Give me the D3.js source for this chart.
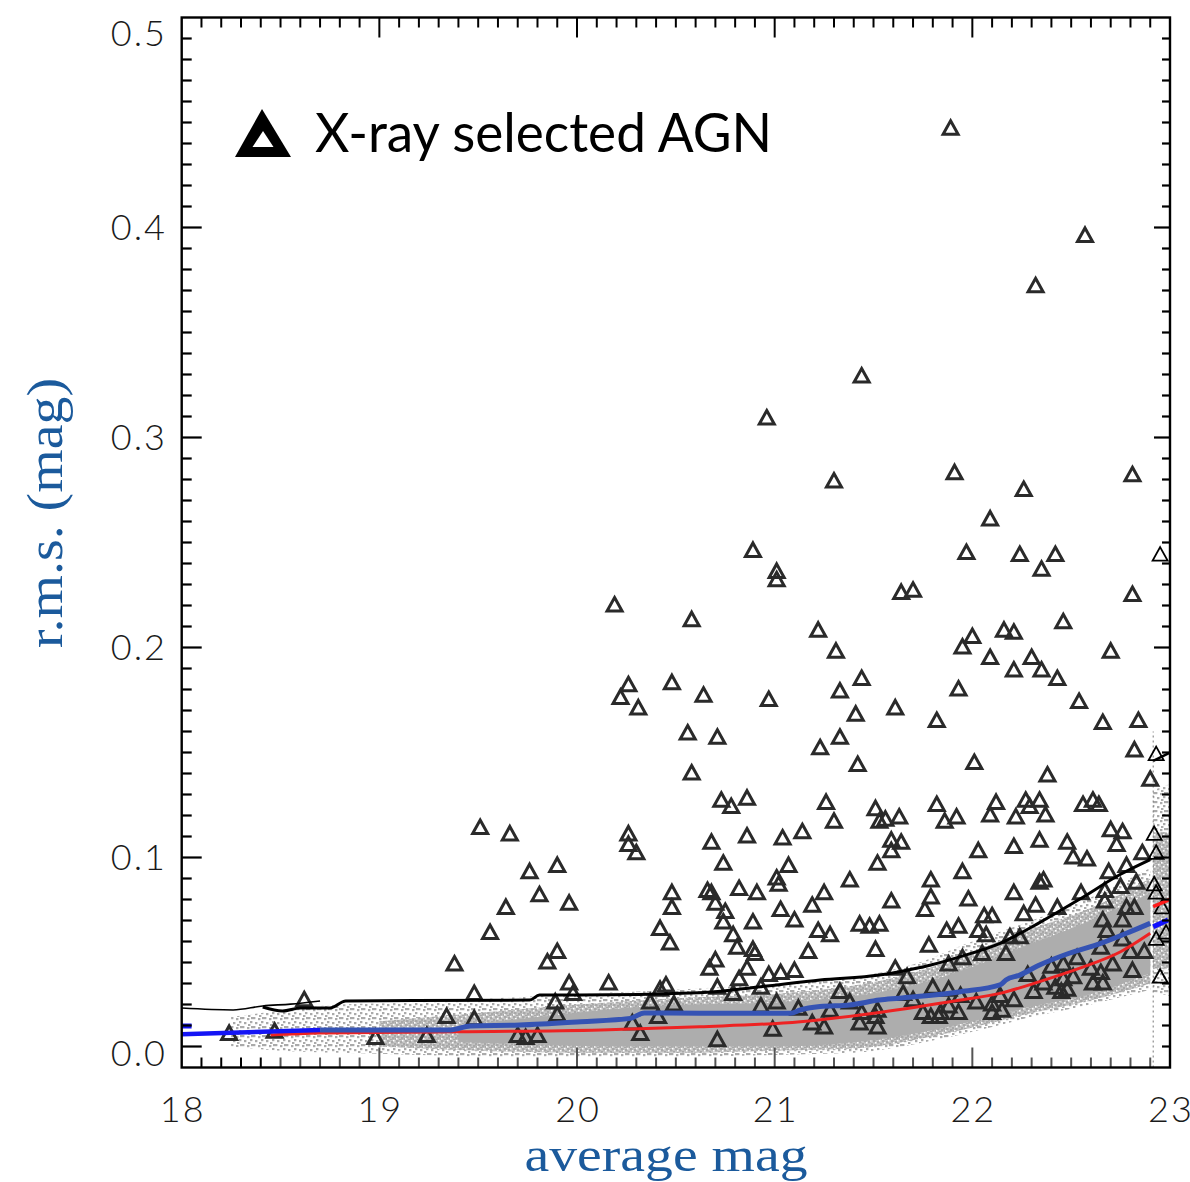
<!DOCTYPE html>
<html><head><meta charset="utf-8">
<script src="https://cdn.jsdelivr.net/npm/d3@7"></script>
<style>body{margin:0;background:#fff}svg{display:block}</style>
</head><body>
<svg id="c" width="1190" height="1182"></svg>
<script>
// ---------- data ----------
const xTickValues = [18,19,20,21,22,23];
const xTickLabels = ["18","19","20","21","22","23"];
const yTickValues = [0.0,0.1,0.2,0.3,0.4,0.5];
const yTickLabels = ["0.0","0.1","0.2","0.3","0.4","0.5"];
const yLongTicks  = [0.01,0.1,0.2,0.3,0.4];

// X-ray selected AGN (average mag, r.m.s.)
const agnMag = [21.89,22.57,22.32,21.44,20.96,21.91,21.30,22.81,22.26,22.09,20.89,21.97,22.24,22.42,21.01,21.01,22.35,20.19,21.64,21.70,
22.81,20.58,22.46,21.22,22.16,22.21,22.00,21.95,21.31,22.70,22.09,22.30,22.21,22.35,21.44,22.43,20.48,20.26,20.22,20.31,
20.64,21.33,21.93,20.97,22.54,21.61,21.41,21.82,22.84,22.66,20.56,20.71,21.33,21.23,22.82,22.01,21.42,20.58,22.38,20.73,
20.78,20.86,21.26,21.30,21.51,21.53,21.56,21.63,21.82,21.86,21.92,22.12,22.09,22.27,22.34,22.29,22.22,22.37,22.56,22.61,
22.64,22.70,22.76,20.68,20.86,21.04,21.14,21.59,21.64,21.59,22.03,20.74,21.07,21.52,21.95,21.79,21.38,21.01,19.51,19.66,
20.26,20.26,20.30,19.76,19.90,19.81,19.96,19.64,19.56,19.38,19.90,19.85,19.96,19.98,19.48,19.89,18.62,19.34,19.48,19.90,
18.24,18.47,18.98,19.24,19.70,19.74,19.80,20.48,20.48,20.66,20.68,20.70,20.82,20.91,21.02,21.25,21.19,21.03,20.75,20.74,
20.89,21.10,21.43,21.48,21.53,20.42,20.47,20.79,20.81,20.89,20.90,21.22,21.28,21.17,21.51,20.70,20.67,20.86,20.82,20.97,
21.03,21.10,20.16,20.45,20.42,20.71,20.79,20.93,20.37,20.49,20.41,20.28,20.32,20.93,21.01,21.12,21.28,21.33,21.38,20.99,
20.71,21.19,21.25,21.43,21.51,21.52,22.21,22.34,22.48,22.73,22.86,22.51,22.58,22.78,22.69,22.34,22.36,22.21,21.59,21.79,
21.76,21.98,22.55,22.67,22.75,22.83,22.32,22.43,22.26,22.06,22.10,22.67,22.78,22.82,21.87,21.93,22.03,22.07,22.19,22.24,
22.66,22.68,22.76,21.78,22.17,21.95,22.05,22.65,22.76,22.80,22.87,21.61,21.67,21.88,22.53,22.60,22.65,22.71,22.40,22.46,
22.28,22.81,22.46,22.51,22.61,22.66,22.36,22.42,22.48,21.80,21.88,22.31,22.45,21.65,21.70,21.94,22.02,22.14,22.21,22.10,
22.15,22.10,21.44,21.52,21.75,21.84,21.93,21.88,21.79,21.83,22.90];
const agnRms = [0.447,0.396,0.372,0.329,0.309,0.283,0.279,0.282,0.275,0.261,0.246,0.245,0.244,0.244,0.236,0.232,0.237,0.220,0.226,0.227,
0.225,0.213,0.212,0.208,0.208,0.207,0.205,0.200,0.198,0.198,0.195,0.195,0.189,0.189,0.185,0.185,0.183,0.182,0.176,0.171,
0.177,0.179,0.180,0.175,0.174,0.171,0.168,0.165,0.165,0.164,0.159,0.157,0.157,0.152,0.151,0.145,0.144,0.140,0.139,0.127,
0.124,0.128,0.126,0.117,0.123,0.117,0.118,0.119,0.125,0.117,0.119,0.126,0.120,0.127,0.127,0.124,0.119,0.120,0.125,0.127,
0.125,0.113,0.112,0.107,0.110,0.109,0.112,0.108,0.107,0.103,0.103,0.097,0.096,0.097,0.093,0.089,0.089,0.090,0.114,0.111,
0.111,0.106,0.102,0.093,0.096,0.082,0.078,0.076,0.064,0.049,0.055,0.050,0.040,0.035,0.035,0.031,0.032,0.024,0.023,0.025,
0.016,0.017,0.014,0.015,0.015,0.014,0.015,0.083,0.076,0.084,0.083,0.078,0.085,0.083,0.087,0.083,0.077,0.075,0.074,0.069,
0.069,0.070,0.068,0.067,0.068,0.066,0.059,0.063,0.057,0.056,0.054,0.065,0.063,0.055,0.056,0.051,0.047,0.047,0.042,0.044,
0.045,0.046,0.040,0.039,0.037,0.038,0.035,0.038,0.031,0.030,0.024,0.021,0.016,0.029,0.031,0.028,0.027,0.036,0.031,0.018,
0.013,0.021,0.019,0.021,0.024,0.019,0.105,0.108,0.107,0.106,0.102,0.100,0.099,0.096,0.093,0.088,0.089,0.083,0.079,0.081,
0.075,0.080,0.083,0.084,0.086,0.088,0.077,0.076,0.073,0.072,0.072,0.079,0.076,0.076,0.065,0.067,0.065,0.063,0.062,0.062,
0.070,0.065,0.070,0.058,0.054,0.052,0.054,0.057,0.061,0.055,0.055,0.047,0.043,0.049,0.052,0.047,0.045,0.049,0.048,0.049,
0.044,0.046,0.042,0.043,0.040,0.040,0.040,0.038,0.037,0.038,0.037,0.036,0.036,0.035,0.032,0.034,0.031,0.034,0.032,0.030,
0.027,0.026,0.026,0.027,0.026,0.026,0.026,0.029,0.024,0.024,0.137];

// AGN beyond the inner panel edge
const edgeMag = [22.95,22.93,22.92,22.93,22.92,22.93,22.96,22.98,22.93,22.95];
const edgeRms = [0.244,0.149,0.111,0.102,0.087,0.083,0.076,0.064,0.061,0.043];

// upper envelope (black curves)
const blackThinMag = [18.00,18.26,18.41,18.55,18.70];
const blackThinRms = [0.0283,0.0274,0.0293,0.0302,0.0317];
const blackMag = [18.41,18.51,18.60,18.75,18.83,19.76,19.81,20.01,20.62,20.93,21.23,21.53,21.63,21.79,21.94,22.14,22.34,22.54,22.75,22.90];
const blackRms = [0.0288,0.0269,0.0283,0.0283,0.0317,0.0321,0.0345,0.0345,0.0356,0.0385,0.0417,0.0440,0.0456,0.0488,0.0528,0.0591,0.0690,0.0800,0.0920,0.0990];
const blackEdgeMag = [22.915,23.0];
const blackEdgeRms = [0.146,0.150];

// median (blue curves)
const blueLeftMag = [18.00,18.70];
const blueLeftRms = [0.0158,0.0179];
const blueBlipMag = [18.00,18.05];
const blueBlipRms = [0.0198,0.0198];
const blueMag = [18.70,19.36,19.46,19.71,20.02,20.27,20.34,20.62,21.08,21.13,21.23,21.38,21.53,21.63,21.94,22.14,22.17,22.24,22.34,22.49,22.65,22.80,22.90];
const blueRms = [0.0179,0.0179,0.0198,0.0202,0.0218,0.0234,0.0260,0.0258,0.0258,0.0274,0.0290,0.0298,0.0321,0.0330,0.0361,0.0393,0.0417,0.0440,0.0488,0.0544,0.0591,0.0647,0.0687];
const blueEdgeMag = [22.915,22.99];
const blueEdgeRms = [0.0670,0.0702];

// photometric error (red curves)
const redMag = [18.45,18.70,19.36,20.12,20.62,21.13,21.53,21.94,22.14,22.34,22.54,22.75,22.90];
const redRms = [0.0155,0.0164,0.0170,0.0179,0.0194,0.0218,0.0262,0.0321,0.0353,0.0409,0.0472,0.0551,0.0639];
const redEdgeMag = [22.915,23.0];
const redEdgeRms = [0.0766,0.0801];

// non-variable sources (grey cloud envelopes)
const cloudMag = [18.25,18.5,18.8,19.2,19.6,20.0,20.5,21.0,21.4,21.7,22.0,22.3,22.6,22.9];
const cloudHi  = [0.024,0.027,0.030,0.031,0.033,0.035,0.037,0.040,0.043,0.049,0.060,0.070,0.081,0.095];
const cloudLo  = [0.010,0.008,0.007,0.006,0.005,0.005,0.005,0.006,0.007,0.011,0.017,0.024,0.030,0.037];
const midMag   = [19.0,19.5,20.0,20.5,21.0,21.4,21.7,22.0,22.3,22.6,22.9];
const midHi    = [0.022,0.026,0.030,0.033,0.035,0.039,0.045,0.055,0.066,0.076,0.090];
const midLo    = [0.010,0.008,0.007,0.007,0.008,0.009,0.013,0.019,0.026,0.032,0.040];
const coreMag  = [19.4,19.8,20.2,20.6,21.0,21.4,21.7,22.0,22.3,22.6,22.9];
const coreHi   = [0.020,0.024,0.028,0.030,0.031,0.034,0.039,0.048,0.059,0.070,0.083];
const coreLo   = [0.012,0.011,0.010,0.010,0.010,0.012,0.016,0.022,0.029,0.035,0.045];
const edgeCloudMag = [22.915,23.0];
const edgeCloudHi  = [0.132,0.135];
const edgeCloudLo  = [0.036,0.034];
const edgeCoreHi   = [0.112,0.112];
const edgeCoreLo   = [0.047,0.047];

// ---------- drawing ----------
const svg = d3.select("#c");
const L = 181.7, R = 1170, T = 17.5, B = 1067.5;
const x = d3.scaleLinear().domain([18,23]).range([L,R]);
const y = d3.scaleLinear().domain([0,0.5]).range([B,T]);

const defs = svg.append("defs");
const pat = defs.append("pattern").attr("id","speck").attr("patternUnits","userSpaceOnUse")
  .attr("width",11).attr("height",9);
[[0,0],[5,1],[8,4],[2,5],[6,7],[9,0]].forEach(p=>{
  pat.append("rect").attr("x",p[0]).attr("y",p[1]).attr("width",2.4).attr("height",2.2).attr("fill","#aaa");
});
const pat2 = defs.append("pattern").attr("id","speck2").attr("patternUnits","userSpaceOnUse")
  .attr("width",9).attr("height",8);
pat2.append("rect").attr("width",9).attr("height",8).attr("fill","#c4c4c4");
[[0,0],[4,1],[7,3],[1,4],[5,5],[3,7],[8,6]].forEach(p=>{
  pat2.append("rect").attr("x",p[0]).attr("y",p[1]).attr("width",2.5).attr("height",2.3).attr("fill","#a8a8a8");
});
[[2,2],[6,0],[0,6]].forEach(p=>{
  pat2.append("rect").attr("x",p[0]).attr("y",p[1]).attr("width",1.5).attr("height",1.5).attr("fill","#fff");
});
defs.append("clipPath").attr("id","plot").append("rect").attr("x",L).attr("y",T).attr("width",R-L).attr("height",B-T);

const g = svg.append("g").attr("clip-path","url(#plot)");

function band(mags, hi, lo){
  return d3.area().x((d,i)=>x(mags[i])).y0((d,i)=>y(lo[i])).y1((d,i)=>y(hi[i])).curve(d3.curveMonotoneX)(mags);
}
g.append("path").attr("d",band(cloudMag,cloudHi,cloudLo)).attr("fill","url(#speck)");
g.append("path").attr("d",band(midMag,midHi,midLo)).attr("fill","url(#speck2)");
g.append("path").attr("d",band(coreMag,coreHi,coreLo)).attr("fill","#adadad");
g.append("path").attr("d",band(edgeCloudMag,edgeCloudHi,edgeCloudLo)).attr("fill","url(#speck)");
g.append("path").attr("d",band(edgeCloudMag,edgeCoreHi,edgeCoreLo)).attr("fill","url(#speck2)");

// inner panel edge
g.append("line").attr("x1",x(22.915)).attr("x2",x(22.915)).attr("y1",y(0)).attr("y2",y(0.16))
  .attr("stroke","#777").attr("stroke-width",1).attr("stroke-dasharray","2,3");

// triangles
const tri = "M0,-8L7.5,5.5L-7.5,5.5Z";
g.selectAll(".agn").data(agnMag).join("path").attr("class","agn")
  .attr("d",tri).attr("transform",(d,i)=>`translate(${x(d)},${y(agnRms[i])})`)
  .attr("fill","none").attr("stroke","#2a2a2a").attr("stroke-width",3).attr("stroke-linejoin","miter");
g.selectAll(".edge").data(edgeMag).join("path").attr("class","edge")
  .attr("d",tri).attr("transform",(d,i)=>`translate(${x(d)},${y(edgeRms[i])})`)
  .attr("fill","none").attr("stroke","#000").attr("stroke-width",1.8);

function line(m, r, color, w){
  const l = d3.line().x((d,i)=>x(m[i])).y((d,i)=>y(r[i])).curve(d3.curveMonotoneX);
  g.append("path").attr("d",l(m)).attr("fill","none").attr("stroke",color).attr("stroke-width",w).attr("stroke-linejoin","round");
}
line(redMag, redRms, "#ee2222", 3);
line(redEdgeMag, redEdgeRms, "#ff1a1a", 3.5);
line(blueMag, blueRms, "#3553b4", 5);
line(blueLeftMag, blueLeftRms, "#1414f5", 4.5);
line(blueBlipMag, blueBlipRms, "#1414f5", 5);
line(blueEdgeMag, blueEdgeRms, "#1010ff", 5);
line(blackThinMag, blackThinRms, "#000", 1.6);
line(blackMag, blackRms, "#000", 3);
line(blackEdgeMag, blackEdgeRms, "#000", 2.5);

// ---------- axes ----------
const ax = svg.append("g").attr("stroke","#000");
const xMinor = d3.range(181,230).map(v=>v/10);
const yMinor = d3.range(1,50).map(v=>v/100);
xMinor.forEach(v=>{
  const major = Math.abs(v-Math.round(v))<1e-6;
  const len = major ? 20 : 10;
  ax.append("line").attr("x1",x(v)).attr("x2",x(v)).attr("y1",B).attr("y2",B-len).attr("stroke-width",2).attr("stroke", v>18.4?"#555":"#000");
  ax.append("line").attr("x1",x(v)).attr("x2",x(v)).attr("y1",T).attr("y2",T+len).attr("stroke-width",2);
});
yMinor.forEach(v=>{
  const major = yLongTicks.some(t=>Math.abs(t-v)<1e-6);
  ax.append("line").attr("x1",L).attr("x2",L+(major?20:10)).attr("y1",y(v)).attr("y2",y(v)).attr("stroke-width",2.2);
  ax.append("line").attr("x1",R).attr("x2",R-(major&&v>0.05?16:8)).attr("y1",y(v)).attr("y2",y(v)).attr("stroke-width",2.2);
});
svg.append("rect").attr("x",L).attr("y",T).attr("width",R-L).attr("height",B-T)
  .attr("fill","none").attr("stroke","#000").attr("stroke-width",2.4);

const lab = svg.append("g").attr("font-family","Lato, 'DejaVu Sans', sans-serif").attr("font-weight",300)
  .attr("font-size",36).attr("fill","#1a1a1a").attr("letter-spacing",2);
yTickValues.forEach((v,i)=>{
  let yy = y(v);
  if (i===0) yy -= 14;
  if (i===yTickValues.length-1) yy += 16;
  lab.append("text").attr("x",167).attr("y",yy).attr("dy","0.36em").attr("text-anchor","end").text(yTickLabels[i]);
});
xTickValues.forEach((v,i)=>{
  lab.append("text").attr("x",x(v)+1).attr("y",1122).attr("text-anchor","middle").text(xTickLabels[i]);
});

// axis titles
svg.append("text").attr("x",666).attr("y",1171).attr("text-anchor","middle")
  .attr("font-family","'Liberation Serif', 'DejaVu Serif', serif").attr("font-size",48).attr("fill","#1b5a9c")
  .attr("textLength",283).attr("lengthAdjust","spacingAndGlyphs").text("average mag");
svg.append("text").attr("transform","translate(62,513) rotate(-90)").attr("text-anchor","middle")
  .attr("font-family","'Liberation Serif', 'DejaVu Serif', serif").attr("font-size",50).attr("fill","#1b5a9c")
  .attr("textLength",270).attr("lengthAdjust","spacingAndGlyphs").text("r.m.s. (mag)");

// legend
svg.append("path").attr("d","M262,109L291,157L235,157Z").attr("fill","#000");
svg.append("path").attr("d","M263,131L273.5,147L252.5,147Z").attr("fill","#fff");
svg.append("text").attr("x",315).attr("y",152).attr("font-family","Lato, 'Open Sans', sans-serif")
  .attr("font-size",54).attr("fill","#000").attr("textLength",457).attr("lengthAdjust","spacingAndGlyphs")
  .text("X-ray selected AGN");
</script>
</body></html>
